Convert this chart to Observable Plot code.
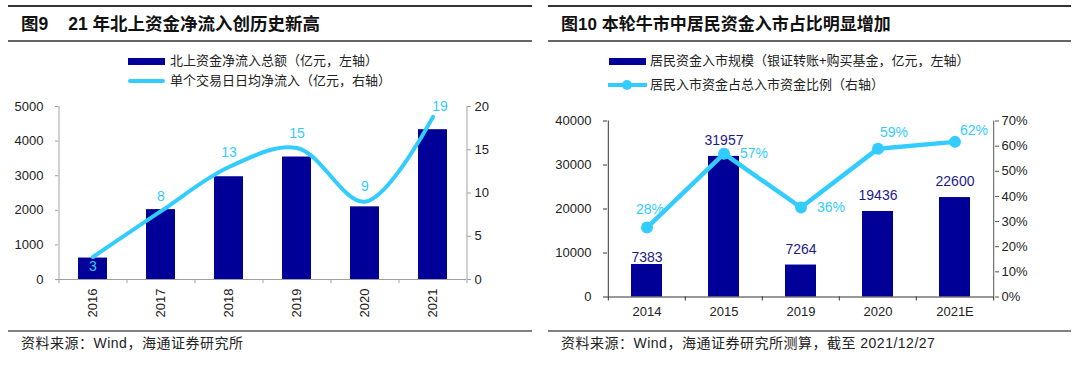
<!DOCTYPE html>
<html>
<head>
<meta charset="utf-8">
<script src="https://cdn.jsdelivr.net/npm/d3@7"></script>
<script src="https://cdn.jsdelivr.net/npm/@observablehq/plot@0.6"></script>
<style>
  body { margin:0; width:1080px; height:366px; position:relative; background:#fff; overflow:hidden;
         font-family:"Liberation Sans","Noto Sans CJK SC",Arial,sans-serif; color:#222; }
  .abs { position:absolute; }
  .rule { position:absolute; height:2px; }
  .title { position:absolute; font-weight:bold; line-height:21px; white-space:nowrap; color:#111; }
  .leg { position:absolute; font-size:13px; line-height:16px; white-space:nowrap; color:#222; }
  .foot { position:absolute; font-size:14px; line-height:16px; letter-spacing:0.5px; white-space:nowrap; color:#222; }
</style>
</head>
<body>
<!-- left panel -->
<div class="rule" style="top:5px;left:8px;width:524px;background:#333"></div>
<div class="title" style="top:14px;left:21px;font-size:17.5px">图9<span style="display:inline-block;width:20px"></span>21 年北上资金净流入创历史新高</div>
<div class="rule" style="top:40px;left:8px;width:524px;background:#666"></div>
<div class="abs" style="top:58px;left:128px;width:37px;height:7px;background:#000099"></div>
<div class="leg" style="top:53px;left:170px">北上资金净流入总额（亿元，左轴）</div>
<div class="abs" style="top:79px;left:128px;width:37px;height:4px;background:#33ccff;border-radius:2px"></div>
<div class="leg" style="top:73px;left:170px">单个交易日日均净流入（亿元，右轴）</div>
<div id="c9" class="abs" style="top:95px;left:0px"></div>
<div class="rule" style="top:330px;left:8px;width:524px;background:#808080"></div>
<div class="foot" style="top:335px;left:21px">资料来源：Wind，海通证券研究所</div>

<!-- right panel -->
<div class="rule" style="top:5px;left:548px;width:523px;background:#333"></div>
<div class="title" style="top:14px;left:561px;font-size:17px">图10 本轮牛市中居民资金入市占比明显增加</div>
<div class="rule" style="top:40px;left:548px;width:523px;background:#666"></div>
<div class="abs" style="top:58px;left:609px;width:37px;height:7px;background:#000099"></div>
<div class="leg" style="top:53px;left:650px">居民资金入市规模（银证转账+购买基金，亿元，左轴）</div>
<div class="abs" style="top:83px;left:608px;width:39px;height:4px;background:#33ccff"></div>
<div class="abs" style="top:80px;left:622px;width:10px;height:10px;border-radius:50%;background:#33ccff"></div>
<div class="leg" style="top:77px;left:650px">居民入市资金占总入市资金比例（右轴）</div>
<div id="c10" class="abs" style="top:110px;left:540px"></div>
<div class="rule" style="top:330px;left:548px;width:523px;background:#808080"></div>
<div class="foot" style="top:335px;left:561px">资料来源：Wind，海通证券研究所测算，截至 2021/12/27</div>

<script>
// ---- Figure 9 data ----
const years9 = ["2016", "2017", "2018", "2019", "2020", "2021"];
const inflow9 = [620, 2020, 2970, 3540, 2100, 4330];      // 亿元, left axis
const daily9 = [2.6, 7.9, 13.0, 15.2, 9.0, 18.8];         // 亿元, right axis
const yTicks9L = [0, 1000, 2000, 3000, 4000, 5000];
const yTicks9R = [0, 5, 10, 15, 20];

// ---- Figure 10 data ----
const years10 = ["2014", "2015", "2019", "2020", "2021E"];
const funds10 = [7383, 31957, 7264, 19436, 22600];        // 亿元, left axis
const share10 = [0.276, 0.57, 0.356, 0.59, 0.617];        // right axis
const yTicks10L = [0, 10000, 20000, 30000, 40000];
const yTicks10R = [0, 0.1, 0.2, 0.3, 0.4, 0.5, 0.6, 0.7];

const BAR = "#000099", LINE = "#33ccff", NAVYTXT = "#1c1c8a";
const style = {fontFamily: "'Liberation Sans', Arial, sans-serif", fontSize: "13px", background: "transparent", overflow: "visible", color: "#222"};

// ---------- Chart 9 ----------
{
  const k = 5000 / 20;
  const data = years9.map((year, i) => ({year, v: inflow9[i], d: daily9[i] * k, lab: d3.format(".0f")(daily9[i])}));
  const half = 34; // half category step in px
  const last = years9[years9.length - 1];
  const axisGray = "#a0a0a0";
  const chart = Plot.plot({
    width: 540, height: 227,
    marginTop: 11, marginBottom: 43, marginLeft: 58, marginRight: 74,
    style,
    x: {domain: years9, paddingInner: 0.58, paddingOuter: 0.29, axis: null},
    y: {domain: [0, 5000], axis: null},
    marks: [
      Plot.barY(data, {x: "year", y: "v", fill: BAR}),
      Plot.line(data, {x: "year", y: "d", stroke: LINE, strokeWidth: 4, curve: "catmull-rom"}),
      Plot.ruleY([0], {stroke: axisGray}),
      Plot.ruleX([years9[0]], {dx: -half, stroke: axisGray}),
      Plot.ruleX([last], {dx: half, stroke: axisGray}),
      Plot.ruleX(years9, {x: d => d, dx: -half, y1: 0, y2: 0, insetBottom: -4, stroke: axisGray}),
      Plot.ruleX([last], {x: d => d, dx: half, y1: 0, y2: 0, insetBottom: -4, stroke: axisGray}),
      Plot.axisY(yTicks9L, {anchor: "left", tickSize: 3, tickPadding: 12, stroke: axisGray, fill: "#222", fontSize: 13, tickFormat: d3.format("d"), label: null}),
      Plot.axisY(yTicks9R.map(v => v * k), {anchor: "right", tickSize: 4, tickPadding: 4, stroke: axisGray, fill: "#222", fontSize: 13, tickFormat: v => d3.format("d")(v / k), label: null}),
      Plot.axisX({anchor: "bottom", tickSize: 0, tickPadding: 9, tickRotate: -90, fill: "#222", fontSize: 13, label: null}),
      Plot.text(data, {filter: (d, i) => i === 0, x: "year", y: "d", text: "lab", dy: 10, fill: LINE, fontSize: 14}),
      Plot.text(data, {filter: (d, i) => i > 0 && i < data.length - 1, x: "year", y: "d", text: "lab", dy: -15, fill: LINE, fontSize: 14}),
      Plot.text(data, {filter: (d, i) => i === data.length - 1, x: "year", y: "d", text: "lab", dx: 7, dy: -10, fill: LINE, fontSize: 14})
    ]
  });
  document.getElementById("c9").appendChild(chart);
}

// ---------- Chart 10 ----------
{
  const k = 40000 / 0.7;
  const data = years10.map((year, i) => ({year, v: funds10[i], p: share10[i] * k, vlab: String(funds10[i]), plab: d3.format(".0%")(share10[i])}));
  const half = 38.7;
  const last = years10[years10.length - 1];
  const dark = "#333";
  const chart = Plot.plot({
    width: 540, height: 212,
    marginTop: 10.5, marginBottom: 25.5, marginLeft: 67, marginRight: 86,
    style,
    x: {domain: years10, paddingInner: 0.6, paddingOuter: 0.3, axis: null},
    y: {domain: [0, 40000], axis: null},
    marks: [
      Plot.barY(data, {x: "year", y: "v", fill: BAR}),
      Plot.line(data, {x: "year", y: "p", stroke: LINE, strokeWidth: 4.5}),
      Plot.dot(data, {x: "year", y: "p", r: 6, fill: LINE}),
      Plot.ruleY([0], {stroke: dark}),
      Plot.ruleX([years10[0]], {dx: -half, stroke: dark}),
      Plot.ruleX([last], {dx: half, stroke: "#555"}),
      Plot.ruleX(years10, {x: d => d, dx: -half, y1: 0, y2: 0, insetBottom: -4, stroke: dark}),
      Plot.ruleX([last], {x: d => d, dx: half, y1: 0, y2: 0, insetBottom: -4, stroke: dark}),
      Plot.axisY(yTicks10L, {anchor: "left", tickSize: 4, tickPadding: 12, stroke: dark, fill: "#222", fontSize: 13, tickFormat: d3.format("d"), label: null}),
      Plot.axisY(yTicks10R.map(v => v * k), {anchor: "right", tickSize: 4, tickPadding: 3, stroke: "#555", fill: "#222", fontSize: 13, tickFormat: v => d3.format(".0%")(v / k), label: null}),
      Plot.axisX({anchor: "bottom", tickSize: 0, tickPadding: 10, fill: "#222", fontSize: 13, label: null}),
      // bar value labels
      Plot.text(data, {filter: (d, i) => i === 0, x: "year", y: "v", text: "vlab", dy: -7, fill: NAVYTXT, fontSize: 14}),
      Plot.text(data, {filter: (d, i) => i > 0, x: "year", y: "v", text: "vlab", dy: -16, fill: NAVYTXT, fontSize: 14}),
      // share labels
      Plot.text(data, {filter: (d, i) => i === 0, x: "year", y: "p", text: "plab", dx: 3, dy: -18, fill: LINE, fontSize: 14}),
      Plot.text(data, {filter: (d, i) => i === 1 || i === 2, x: "year", y: "p", text: "plab", dx: 30, dy: 0, fill: LINE, fontSize: 14}),
      Plot.text(data, {filter: (d, i) => i === 3, x: "year", y: "p", text: "plab", dx: 16, dy: -16, fill: LINE, fontSize: 14}),
      Plot.text(data, {filter: (d, i) => i === 4, x: "year", y: "p", text: "plab", dx: 19, dy: -11, fill: LINE, fontSize: 14})
    ]
  });
  document.getElementById("c10").appendChild(chart);
}
</script>
</body>
</html>
